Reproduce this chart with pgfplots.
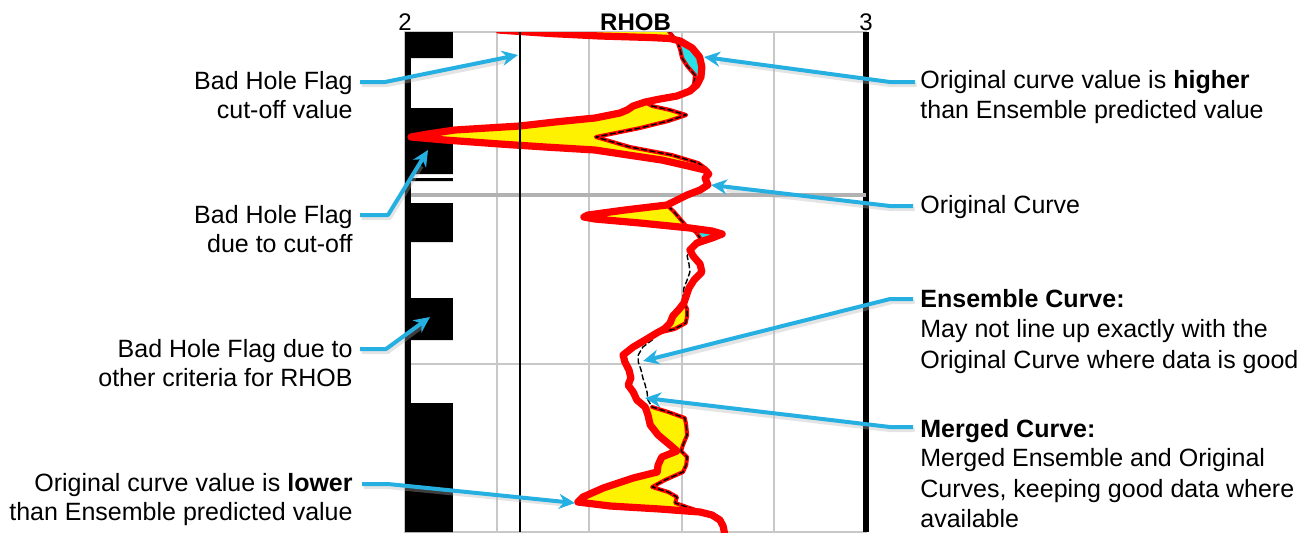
\documentclass[border=0pt]{standalone}
\usepackage{fontspec}
\setmainfont{Liberation Sans}
\usepackage{pgfplots}
\pgfplotsset{compat=1.18}
\usepackage{pgfplotstable}
\usetikzlibrary{arrows.meta}
\definecolor{annblue}{RGB}{38,176,226}
\definecolor{cyanfill}{RGB}{40,225,230}
\definecolor{gridgray}{RGB}{200,200,200}

% Original curve (RHOB value, depth)
\pgfplotstableread{
v d
2.200 28
2.202 30
2.315 33.5
2.423 36
2.531 37.5
2.575 38.5
2.588 40
2.597 41
2.623 48
2.639 57
2.644 67
2.642 77
2.633 85
2.618 91
2.590 96
2.553 99
2.521 102
2.495 106
2.482 110
2.466 113
2.412 118
2.325 122
2.249 126
2.108 130
2.050 134
2.013 137
2.087 140
2.206 144
2.304 147
2.412 150
2.484 155
2.557 160
2.605 165
2.651 170
2.659 174
2.651 178
2.657 185
2.640 190
2.612 195
2.586 201
2.568 205
2.477 210
2.397 215
2.388 217
2.412 219
2.510 223
2.618 228
2.666 231
2.688 234
2.666 238
2.633 243
2.618 250
2.625 256
2.640 264
2.644 272
2.627 280
2.616 288
2.610 296
2.605 303
2.595 309
2.581 316
2.575 323
2.562 329
2.546 333
2.521 340
2.495 347
2.473 355
2.477 362
2.486 370
2.490 378
2.484 385
2.495 392
2.503 400
2.521 407
2.527 415
2.532 425
2.549 435
2.575 445
2.590 451
2.557 457
2.549 465
2.547 472
2.495 478
2.430 488
2.386 497
2.375 502
2.445 506
2.553 509
2.640 512
2.666 515
2.683 520
2.690 526
2.694 535
}\Otab

% Ensemble curve
\pgfplotstableread{
v d
2.568 28
2.575 33
2.582 37
2.588 40
2.592 43
2.597 50
2.601 58
2.612 66
2.629 75
2.627 84
2.618 91
2.590 96
2.553 99
2.521 102
2.536 106
2.575 110
2.610 115
2.571 121
2.510 128
2.414 137
2.488 147
2.579 155
2.636 163
2.651 168
2.659 174
2.651 178
2.657 185
2.640 190
2.612 195
2.586 201
2.568 205
2.584 212
2.597 219
2.610 226
2.618 228
2.631 232
2.640 238
2.636 244
2.618 250
2.612 256
2.616 264
2.618 272
2.612 280
2.605 288
2.603 296
2.605 303
2.612 309
2.612 316
2.609 323
2.585 329
2.548 333
2.536 340
2.516 347
2.506 355
2.506 362
2.512 370
2.516 378
2.521 385
2.525 392
2.527 400
2.536 407
2.571 412
2.607 418
2.610 425
2.612 435
2.603 445
2.599 451
2.612 457
2.610 465
2.603 472
2.564 480
2.536 487
2.571 492
2.590 497
2.586 503
2.618 508
2.644 512
2.666 515
2.683 520
2.690 526
2.694 535
}\Etab

\begin{document}
\begin{tikzpicture}
\begin{scope}[x=0.5pt,y=-0.5pt]
\path[use as bounding box] (0,0) rectangle (1307,542);
\end{scope}
\begin{axis}[
  at={(202.5pt,-16pt)}, anchor=north west,
  scale only axis, width=230.5pt, height=250pt,
  xmin=2, xmax=3, ymin=32, ymax=532, y dir=reverse,
  xtick={2,2.2,2.4,2.6,2.8,3}, xticklabels={2,,,,,3},
  xticklabel pos=upper,
  xticklabel style={anchor=base, yshift=1pt, font=\fontsize{12}{14}\selectfont},
  /pgf/number format/assume math mode=true,
  major tick length=0pt,
  xmajorgrids, ymajorgrids,
  ytick={364}, yticklabels={},
  grid style={gridgray, line width=1pt},
  extra y ticks={195}, extra y tick labels={},
  extra y tick style={major grid style={gray!60, line width=1.8pt}},
  extra x ticks={3}, extra x tick labels={},
  extra x tick style={major grid style={black, line width=2.6pt}},
  axis line style={gridgray, line width=1pt},
  xlabel={RHOB},
  xlabel style={at={(axis description cs:0.5,1)}, anchor=base, yshift=1pt, font=\bfseries\fontsize{12}{14}\selectfont},
]
% bad hole flag column
\addplot[fill=black, draw=none, mark=none] coordinates {
(2,32) (2.104,32) (2.104,58) (2.013,58) (2.013,108) (2.104,108) (2.104,174)
(2.013,174) (2.013,178) (2.104,178) (2.104,181) (2.013,181) (2.013,203)
(2.104,203) (2.104,242) (2.013,242) (2.013,298) (2.104,298) (2.104,340)
(2.013,340) (2.013,403) (2.104,403) (2.104,532) (2,532)};
% fills between original and ensemble
\addplot[fill=yellow, draw=none, mark=none] coordinates {
(2.200,28) (2.202,30) (2.315,33.5) (2.423,36) (2.531,37.5) (2.575,38.5) (2.588,40)
(2.582,37) (2.575,33) (2.568,28)};
\addplot[fill=cyanfill, draw=none, mark=none] coordinates {
(2.588,40) (2.597,41) (2.623,48) (2.639,57) (2.644,67) (2.642,77) (2.633,85) (2.618,91)
(2.627,84) (2.629,75) (2.612,66) (2.601,58) (2.597,50) (2.592,43)};
\addplot[fill=yellow, draw=none, mark=none] coordinates {
(2.521,102) (2.495,106) (2.482,110) (2.466,113) (2.412,118) (2.325,122) (2.249,126)
(2.108,130) (2.050,134) (2.013,137) (2.087,140) (2.206,144) (2.304,147) (2.412,150)
(2.484,155) (2.557,160) (2.605,165) (2.651,170) (2.659,174)
(2.651,168) (2.636,163) (2.579,155) (2.488,147) (2.414,137) (2.510,128) (2.571,121)
(2.610,115) (2.575,110) (2.536,106)};
\addplot[fill=yellow, draw=none, mark=none] coordinates {
(2.568,205) (2.477,210) (2.397,215) (2.388,217) (2.412,219) (2.510,223) (2.618,228)
(2.610,226) (2.597,219) (2.584,212)};
\addplot[fill=cyanfill, draw=none, mark=none] coordinates {
(2.618,228) (2.666,231) (2.688,234) (2.666,238) (2.633,243) (2.618,250)
(2.636,244) (2.640,238) (2.631,232)};
\addplot[fill=yellow, draw=none, mark=none] coordinates {
(2.605,303) (2.595,309) (2.581,316) (2.575,323) (2.562,329) (2.546,333)
(2.548,333) (2.585,329) (2.609,323) (2.612,316) (2.612,309) (2.605,303)};
\addplot[fill=yellow, draw=none, mark=none] coordinates {
(2.521,407) (2.527,415) (2.532,425) (2.549,435) (2.575,445) (2.590,451) (2.557,457)
(2.549,465) (2.547,472) (2.495,478) (2.430,488) (2.386,497) (2.375,502) (2.445,506)
(2.553,509) (2.640,512) (2.666,515)
(2.644,512) (2.618,508) (2.586,503) (2.590,497) (2.571,492) (2.536,487) (2.564,480)
(2.603,472) (2.610,465) (2.612,457) (2.599,451) (2.603,445) (2.612,435) (2.610,425)
(2.607,418) (2.571,412) (2.536,407)};
% merged (ensemble inside flagged intervals)
\pgfplotsset{mergedred/.style={red, line width=2pt, mark=none, line join=round, line cap=round}}
\addplot[mergedred, restrict y to domain=28:40] table[x=v,y=d]{\Etab};
\addplot[mergedred, restrict y to domain=40:91] table[x=v,y=d]{\Etab};
\addplot[mergedred, restrict y to domain=102:174] table[x=v,y=d]{\Etab};
\addplot[mergedred, restrict y to domain=205:250] table[x=v,y=d]{\Etab};
\addplot[mergedred, restrict y to domain=303:333] table[x=v,y=d]{\Etab};
\addplot[mergedred, restrict y to domain=407:515] table[x=v,y=d]{\Etab};
% ensemble curve
\addplot[black, line width=0.7pt, mark=none, line join=round, dash pattern=on 3pt off 1.2pt] table[x=v,y=d]{\Etab};
% original curve
\addplot[red, line width=3.6pt, mark=none, line join=round, line cap=round] table[x=v,y=d]{\Otab};
% cut-off value
\addplot[black, line width=1pt, mark=none] coordinates {(2.25,32) (2.25,532)};
\end{axis}

\begin{scope}[x=0.5pt,y=-0.5pt]
\tikzset{ann/.style={draw=annblue, line width=2pt, line join=round, -{Stealth[length=8pt,width=7.5pt]}},
  shd/.style={draw=black!30, line width=2.2pt, line join=round, opacity=0.35},
  lt/.style={anchor=base east, inner sep=0pt, font=\fontsize{12.5}{15}\selectfont},
  rt/.style={anchor=base west, inner sep=0pt, font=\fontsize{12.5}{15}\selectfont}}
\begin{scope}[shift={(1.5,3)}]
\draw[shd] (360,82) -- (385,82) -- (505,58);
\draw[shd] (360,215) -- (388,215) -- (420,163);
\draw[shd] (360,349) -- (386,349) -- (420,324);
\draw[shd] (362,484) -- (388,484) -- (560,501);
\draw[shd] (915,82) -- (890,82) -- (718,59);
\draw[shd] (913,206) -- (890,206) -- (725,187);
\draw[shd] (913,299) -- (890,299) -- (656,358);
\draw[shd] (913,427) -- (890,427) -- (658,400);
\end{scope}
\draw[ann] (360,82) -- (385,82) -- (518,55);
\draw[ann] (360,215) -- (388,215) -- (428,150);
\draw[ann] (360,349) -- (386,349) -- (430,317);
\draw[ann] (362,484) -- (388,484) -- (575,503);
\draw[ann] (915,82) -- (890,82) -- (704,57);
\draw[ann] (913,206) -- (890,206) -- (711,185);
\draw[ann] (913,299) -- (890,299) -- (643,361);
\draw[ann] (913,427) -- (890,427) -- (645,398);

\node[lt] at (353,89) {Bad Hole Flag};
\node[lt] at (353,118) {cut-off value};
\node[lt] at (353,223) {Bad Hole Flag};
\node[lt] at (353,252) {due to cut-off};
\node[lt] at (353,357) {Bad Hole Flag due to};
\node[lt] at (353,386) {other criteria for RHOB};
\node[lt] at (353,491) {Original curve value is \textbf{lower}};
\node[lt] at (353,520) {than Ensemble predicted value};

\node[rt] at (920,88) {Original curve value is \textbf{higher}};
\node[rt] at (920,118) {than Ensemble predicted value};
\node[rt] at (920,213) {Original Curve};
\node[rt] at (920,307) {\textbf{Ensemble Curve:}};
\node[rt] at (920,337) {May not line up exactly with the};
\node[rt] at (920,368) {Original Curve where data is good};
\node[rt] at (920,437) {\textbf{Merged Curve:}};
\node[rt] at (920,466) {Merged Ensemble and Original};
\node[rt] at (920,497) {Curves, keeping good data where};
\node[rt] at (920,527) {available};
\end{scope}
\end{tikzpicture}
\end{document}
